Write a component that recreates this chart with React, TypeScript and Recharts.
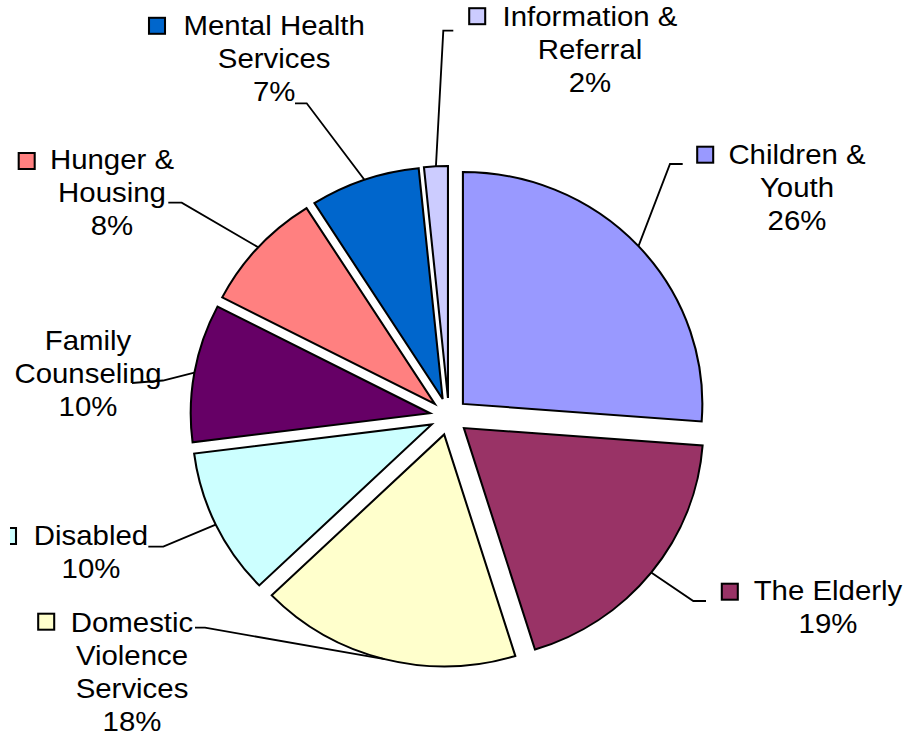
import { PieChart, Pie, Cell } from "recharts";

// slices, clockwise from 12 o'clock
const CATEGORIES = [
  "Children &\nYouth",
  "The Elderly",
  "Domestic\nViolence\nServices",
  "Disabled",
  "Family\nCounseling",
  "Hunger &\nHousing",
  "Mental Health\nServices",
  "Information &\nReferral",
];
const SHARES = [26.2, 19.0, 17.6, 10.2, 9.6, 8.4, 7.4, 1.6];
const COLORS = ["#9999FF", "#993366", "#FFFFCC", "#CCFFFF", "#660066", "#FF8080", "#0066CC", "#CCCCFF"];

// the original picture is stretched ~3% sideways: draw unstretched, then scale x
const SX = 1.032;
const W = 880;
const H = 736;
const CX = 435;
const CY = 416.5;
const R = 232;
const EXPLODE = 18.5;
const FONT = 28.5;
const LINE_H = 33;

// label placement, in picture pixels (text centre x, first baseline)
const LABEL_AT: [number, number][] = [
  [797, 164], [828, 600], [132, 631.7], [91, 545],
  [88, 350], [112, 169.3], [274.2, 35.3], [590, 26],
];
// legend key centres (family counseling has none)
const KEY_AT: ([number, number] | null)[] = [
  [705.2, 154.7], [729.8, 591.7], [46.2, 621.7], [8, 536],
  null, [26.7, 161], [157, 25.8], [477.2, 16.2],
];
// leader line: elbow, then end next to the text
const LEADER: [number, number][][] = [
  [[670, 164], [682.7, 164]],
  [[693.3, 601], [706, 601]],
  [[205, 627.7], [195, 627.7]],
  [[163.3, 546.7], [148.3, 546.7]],
  [[163, 380.5], [132, 383]],
  [[181.7, 202.7], [168.3, 202.7]],
  [[306.7, 103.3], [295, 103.3]],
  [[443.3, 30.7], [453.3, 30.7]],
];

const data = CATEGORIES.map((name, i) => ({ name, value: SHARES[i] }));
const total = SHARES.reduce((a, b) => a + b, 0);
const MIDS = SHARES.map((v, i) => {
  const before = SHARES.slice(0, i).reduce((a, b) => a + b, 0);
  return 90 - (360 * (before + v / 2)) / total;
});
const RAD = Math.PI / 180;
const ix = (x: number) => x / SX;

const renderLabel = (p: any) => {
  const i = p.index;
  const cx = p.cx ?? CX;
  const cy = p.cy ?? CY;
  const r = (p.outerRadius ?? R) + EXPLODE;
  const mid = p.midAngle ?? MIDS[i];
  const sx = cx + r * Math.cos(-mid * RAD);
  const sy = cy + r * Math.sin(-mid * RAD);
  const [[ex, ey], [tx, ty]] = LEADER[i];
  const [lx, ly] = LABEL_AT[i];
  const lines = [...CATEGORIES[i].split("\n"), `${Math.round((p.percent ?? SHARES[i] / total) * 100)}%`];
  const key = KEY_AT[i];
  return (
    <g key={`lbl-${i}`}>
      {i === 0 && (
        <defs>
          <clipPath id="lbl-clip">
            <rect x={ix(10)} y={0} width={W} height={H} />
          </clipPath>
        </defs>
      )}
      <text
        x={ix(lx)}
        y={ly}
        textAnchor="middle"
        fontFamily="'Liberation Sans', Arial, sans-serif"
        fontSize={FONT}
        fill="#000"
      >
        {lines.map((t, k) => (
          <tspan key={k} x={ix(lx)} y={ly + k * LINE_H}>{t}</tspan>
        ))}
      </text>
      {key && (
        <rect
          x={ix(key[0]) - 7.75}
          y={key[1] - 8}
          width={15.5}
          height={16}
          fill={COLORS[i]}
          stroke="#000"
          strokeWidth={2}
          clipPath="url(#lbl-clip)"
        />
      )}
      <polyline
        points={`${sx},${sy} ${ix(ex)},${ey} ${ix(tx)},${ty}`}
        fill="none"
        stroke="#000"
        strokeWidth={1.8}
      />
    </g>
  );
};

export default function App() {
  return (
    <div style={{ position: "absolute", left: 0, top: 0, width: 908, height: 736, overflow: "hidden", background: "#fff" }}>
      <div style={{ width: W, height: H, transform: `scaleX(${SX})`, transformOrigin: "0 0" }}>
        <PieChart width={W} height={H} margin={{ top: 0, right: 0, bottom: 0, left: 0 }}>
          {/* one pie per slice, each pushed out along its own mid angle */}
          {MIDS.map((mid, s) => (
            <Pie
              key={`slice-${s}`}
              data={data}
              dataKey="value"
              nameKey="name"
              cx={CX + EXPLODE * Math.cos(mid * RAD)}
              cy={CY - EXPLODE * Math.sin(mid * RAD)}
              outerRadius={R}
              startAngle={90}
              endAngle={-270}
              isAnimationActive={false}
              label={false}
              labelLine={false}
            >
              {data.map((_, i) => (
                <Cell
                  key={i}
                  fill={i === s ? COLORS[i] : "none"}
                  stroke={i === s ? "#000" : "none"}
                  strokeWidth={2}
                />
              ))}
            </Pie>
          ))}
          <Pie
            data={data}
            dataKey="value"
            nameKey="name"
            cx={CX}
            cy={CY}
            outerRadius={R}
            startAngle={90}
            endAngle={-270}
            isAnimationActive={false}
            label={renderLabel}
            labelLine={false}
          >
            {data.map((_, i) => (
              <Cell key={i} fill="none" stroke="none" />
            ))}
          </Pie>
        </PieChart>
      </div>
    </div>
  );
}
